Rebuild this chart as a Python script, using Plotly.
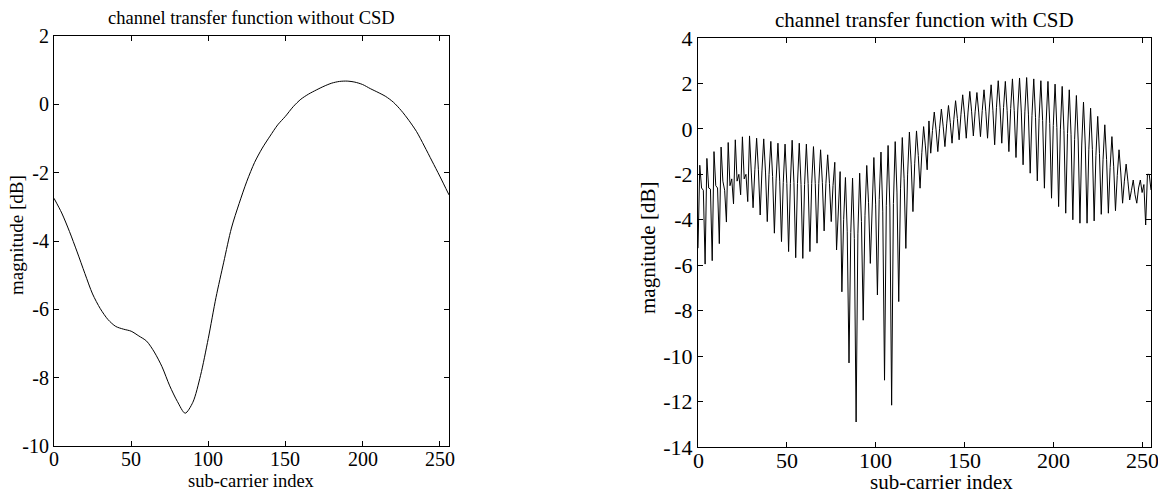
import plotly.graph_objects as go

# ---- Left panel: channel transfer function without CSD ----
nocsd_index = [0, 5, 10, 15, 20, 25, 30, 35, 40, 45, 50, 55, 60, 65, 70, 75, 80, 85, 90, 95,
               100, 105, 110, 115, 120, 125, 130, 135, 140, 145, 150, 155, 160, 165, 170, 175,
               180, 185, 190, 195, 200, 205, 210, 215, 220, 225, 230, 235, 240, 245, 250, 256]
nocsd_db = [-2.75, -3.18, -3.72, -4.32, -4.95, -5.55, -5.98, -6.3, -6.5, -6.58, -6.64, -6.78,
            -6.93, -7.25, -7.68, -8.24, -8.7, -9.04, -8.72, -7.93, -6.85, -5.65, -4.62, -3.62,
            -2.9, -2.25, -1.7, -1.28, -0.93, -0.6, -0.35, -0.07, 0.15, 0.3, 0.42, 0.53, 0.62,
            0.67, 0.68, 0.65, 0.58, 0.46, 0.35, 0.23, 0.06, -0.18, -0.47, -0.8, -1.22, -1.66,
            -2.1, -2.65]

# ---- Right panel: channel transfer function with CSD, sub-carriers 0..255 ----
csd_db = [
    -5.25, -1.6, -2.6, -2.7, -5.95, -1.3, -2.6, -2.65,
    -5.8, -1.0, -2.5, -2.6, -5.05, -0.8, -2.3, -2.7,
    -4.1, -0.6, -2.5, -2.2, -3.3, -0.48, -2.3, -2.0,
    -2.9, -0.35, -2.2, -2.0, -3.2, -0.31, -1.9, -3.47,
    -1.8, -0.41, -1.8, -3.79, -1.85, -0.44, -1.9, -4.08,
    -2.0, -0.55, -2.1, -4.59, -2.2, -0.63, -2.3, -4.96,
    -2.35, -0.67, -2.4, -5.4, -2.4, -0.5, -2.35, -5.67,
    -2.4, -0.63, -2.45, -5.7, -2.45, -0.67, -2.4, -5.4,
    -2.4, -0.78, -2.4, -5.03, -2.4, -0.92, -2.35, -4.49,
    -2.4, -1.14, -2.4, -4.08, -2.5, -1.47, -5.33, -3.27,
    -1.88, -7.17, -3.98, -2.14, -4.53, -10.3, -4.56, -2.17,
    -4.83, -12.9, -4.62, -1.95, -4.08, -8.42, -3.8, -1.61,
    -3.25, -5.92, -2.99, -1.26, -3.31, -7.31, -3.11, -1.02,
    -3.62, -11.06, -3.36, -0.73, -3.44, -12.16, -3.28, -0.56,
    -2.78, -7.6, -2.64, -0.38, -2.17, -5.26, -1.99, -0.14,
    -1.55, -3.64, -1.51, -0.09, -1.17, -2.61, -1.05, 0.1,
    -0.75, -1.8, 0.35, -1.07, -0.07, 0.74, -0.04, -1.0,
    0.03, 0.87, 0.12, -0.78, 0.22, 1.03, 0.28, -0.63,
    0.41, 1.24, 0.46, -0.48, 0.62, 1.5, 0.65, -0.41,
    0.74, 1.65, 0.78, -0.31, 0.75, 1.6, 0.74, -0.34,
    0.81, 1.72, 0.78, -0.41, 0.92, 1.94, 0.82, -0.7,
    0.93, 2.12, 0.96, -0.63, 0.94, 2.09, 0.81, -1.0,
    0.89, 2.2, 0.81, -1.26, 0.83, 2.24, 0.74, -1.58,
    0.75, 2.26, 0.65, -1.95, 0.6, 2.2, 0.51, -2.29,
    0.45, 2.12, 0.37, -2.61, 0.35, 2.09, 0.24, -3.05,
    0.15, 1.97, 0.06, -3.42, -0.01, 1.87, -0.08, -3.71,
    -0.2, 1.72, -0.26, -4.0, -0.46, 1.47, -0.49, -4.15,
    -0.71, 1.18, -0.71, -4.15, -0.92, 0.91, -0.9, -4.05,
    -1.16, 0.55, -1.09, -3.76, -1.36, 0.18, -1.34, -3.71,
    -1.7, -0.34, -1.67, -3.6, -2.06, -0.92, -1.94, -3.27,
    -2.3, -1.55, -2.3, -3.13, -2.7, -2.25, -2.9, -3.27,
    -2.6, -2.25, -2.8, -2.45, -4.23, -2.0, -2.0, -2.69,
]
csd_index = list(range(len(csd_db)))

# ---- Tick labels ----
x_tick_vals = [0, 50, 100, 150, 200, 250]
x_tick_text = ["0", "50", "100", "150", "200", "250"]
left_y_tick_vals = [-10, -8, -6, -4, -2, 0, 2]
left_y_tick_text = ["-10", "-8", "-6", "-4", "-2", "0", "2"]
right_y_tick_vals = [-14, -12, -10, -8, -6, -4, -2, 0, 2, 4]
right_y_tick_text = ["-14", "-12", "-10", "-8", "-6", "-4", "-2", "0", "2", "4"]

titles = ["channel transfer function without CSD", "channel transfer function with CSD"]
x_title = "sub-carrier index"
y_title = "magnitude [dB]"

SERIF = "Liberation Serif, Times New Roman, serif"
# the page body has an 8 px margin: the figure is placed at (8, 8) in the window
OFF = 8
W, H = 1166 - OFF, 492 - OFF

fig = go.Figure()
fig.add_trace(go.Scatter(x=nocsd_index, y=nocsd_db, mode="lines",
                         line=dict(color="black", width=1, shape="spline", smoothing=0.8),
                         xaxis="x", yaxis="y", showlegend=False, hoverinfo="skip"))
fig.add_trace(go.Scatter(x=csd_index, y=csd_db, mode="lines",
                         line=dict(color="black", width=1),
                         xaxis="x2", yaxis="y2", showlegend=False, hoverinfo="skip"))


def axis(domain, rng, tv, tt, fsize, anchor, labels=True):
    return dict(domain=domain, range=rng, tickmode="array", tickvals=tv, ticktext=tt,
                showline=True, linecolor="black", linewidth=1, mirror="ticks",
                ticks="inside", ticklen=5, tickwidth=1, tickcolor="black",
                showgrid=False, zeroline=False, anchor=anchor, automargin=False,
                showticklabels=labels,
                tickfont=dict(family=SERIF, size=fsize, color="black"))


# pixel boxes of the two plot areas, in window pixels
L = (54, 449, 36, 446)
R = (698, 1151, 38, 447)


def px(x):
    return (x - OFF) / W


def py(y):
    return 1 - (y - OFF) / H


def xdom(b):
    return [px(b[0]), px(b[1])]


def ydom(b):
    return [py(b[3]), py(b[2])]


fig.update_layout(
    width=W, height=H,
    margin=dict(l=0, r=0, t=0, b=0),
    paper_bgcolor="white", plot_bgcolor="white",
    xaxis=axis(xdom(L), [0, 256], x_tick_vals, x_tick_text, 20, "y", labels=False),
    yaxis=axis(ydom(L), [-10, 2], left_y_tick_vals, left_y_tick_text, 20, "x"),
    xaxis2=axis(xdom(R), [0, 255], x_tick_vals, x_tick_text, 22, "y2", labels=False),
    yaxis2=axis(ydom(R), [-14, 4], right_y_tick_vals, right_y_tick_text, 22, "x2"),
)


def text(t, x, y, size, angle=0):
    return dict(text=t, x=px(x), y=py(y), xref="paper", yref="paper", showarrow=False,
                xanchor="center", yanchor="middle", textangle=angle,
                font=dict(family=SERIF, size=size, color="black"))


ann = [
    text(titles[0], (L[0] + L[1]) / 2, 18, 18.5),
    text(titles[1], (R[0] + R[1]) / 2, 20, 21),
    text(x_title, (L[0] + L[1]) / 2, 481, 18.5),
    text(x_title, 941, 482, 21),
    text(y_title, 16, 235, 19, -90),
    text(y_title, 648, 248, 21, -90),
]
# x tick labels placed at their data positions just below each axis
for v, t in zip(x_tick_vals, x_tick_text):
    ann.append(dict(text=t, x=v, xref="x", y=py(459), yref="paper", showarrow=False,
                    xanchor="center", yanchor="middle",
                    font=dict(family=SERIF, size=20, color="black")))
    ann.append(dict(text=t, x=v, xref="x2", y=py(460), yref="paper", showarrow=False,
                    xanchor="center", yanchor="middle",
                    font=dict(family=SERIF, size=22, color="black")))
fig.update_layout(annotations=ann)

fig.write_html("out.html")
